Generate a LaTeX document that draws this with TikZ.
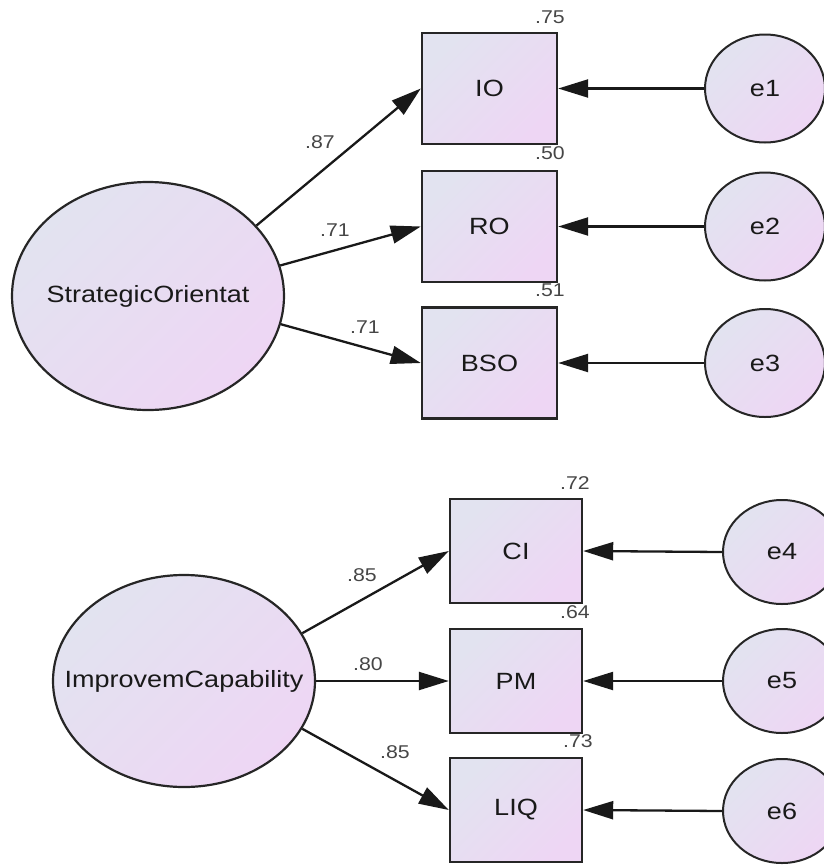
\documentclass[tikz,border=0pt]{standalone}
\usepackage{fontspec}
\usepackage{graphicx}
\setmainfont{Liberation Sans}
\usetikzlibrary{shapes.geometric,arrows.meta}
\definecolor{lavA}{RGB}{226,227,240}
\definecolor{lavB}{RGB}{238,214,244}
\definecolor{coefgray}{RGB}{70,70,70}
% text is set slightly widened, as the whole drawing is
\newcommand{\wtext}[1]{\scalebox{1.15}[1]{#1}}
\newcommand{\namefont}{\fontsize{23.5}{28}\selectfont}
\newcommand{\coeffont}{\fontsize{18.5}{22}\selectfont}
\tikzset{
  gradfill/.style={top color=lavA, bottom color=lavB, shading angle=45},
  obsbox/.style={draw=black!85, line width=2.4pt, gradfill, inner sep=0pt,
    font=\namefont, text=black!90},
  topbox/.style={obsbox, minimum width=135pt, minimum height=111pt},
  lowbox/.style={obsbox, minimum width=132pt, minimum height=104pt},
  latent/.style={ellipse, draw=black!85, line width=2.2pt, gradfill, inner sep=0pt},
  errnode/.style={ellipse, draw=black!85, line width=2pt, gradfill, inner sep=0pt,
    font=\namefont, text=black!90},
  regpath/.style={line width=2.3pt, draw=black!90,
    -{Triangle[length=30pt,width=18pt]}},
  coef/.style={font=\coeffont, text=coefgray, inner sep=0pt}
}
\begin{document}
\begin{tikzpicture}[x=1pt,y=-1pt]
\useasboundingbox (0,0) rectangle (824,865);

% ---- Strategic orientation block ----
\node[latent, minimum width=272pt, minimum height=228pt,
  label={[font=\namefont, text=black!90]center:\wtext{StrategicOrientat}}] (so) at (148,296) {};

\node[topbox] (io)  at (489.5,88.5) {\wtext{IO}};
\node[topbox] (ro)  at (489.5,226.5) {\wtext{RO}};
\node[topbox] (bso) at (489.5,363) {\wtext{BSO}};

\node[errnode, minimum width=120pt, minimum height=108pt] (e1) at (765,88.5) {\wtext{e1}};
\node[errnode, minimum width=120pt, minimum height=108pt] (e2) at (765,226.5) {\wtext{e2}};
\node[errnode, minimum width=120pt, minimum height=108pt] (e3) at (765,363) {\wtext{e3}};

\draw[regpath] (so.33)  -- (io.west);
\draw[regpath] (so.13)  -- (ro.west);
\draw[regpath] (so.-12) -- (bso.west);
\draw[regpath] (e1.west) -- (io.east);
\draw[regpath] (e2.west) -- (ro.east);
\draw[regpath] (e3.west) -- (bso.east);

\node[coef] (c1) at (320,142) {\wtext{.87}};
\node[coef] (c2) at (335,230) {\wtext{.71}};
\node[coef] (c3) at (365,327) {\wtext{.71}};
\node[coef] (r1) at (550,17)  {\wtext{.75}};
\node[coef] (r2) at (550,153) {\wtext{.50}};
\node[coef] (r3) at (550,290) {\wtext{.51}};

% ---- Improvement capability block ----
\node[latent, minimum width=262pt, minimum height=212pt,
  label={[font=\namefont, text=black!90]center:\wtext{ImprovemCapability}}] (ic) at (184,681) {};

\node[lowbox] (ci)  at (516,551) {\wtext{CI}};
\node[lowbox] (pm)  at (516,681) {\wtext{PM}};
\node[lowbox] (liq) at (516,810) {\wtext{LIQ}};

\node[errnode, minimum width=118pt, minimum height=104pt] (e4) at (782,552) {\wtext{e4}};
\node[errnode, minimum width=118pt, minimum height=104pt] (e5) at (782,681) {\wtext{e5}};
\node[errnode, minimum width=118pt, minimum height=104pt] (e6) at (782,811) {\wtext{e6}};

\draw[regpath] (ic.22)  -- (ci.west);
\draw[regpath] (ic.0)   -- (pm.west);
\draw[regpath] (ic.-22) -- (liq.west);
\draw[regpath] (e4.west) -- (ci.east);
\draw[regpath] (e5.west) -- (pm.east);
\draw[regpath] (e6.west) -- (liq.east);

\node[coef] (c4) at (362,575) {\wtext{.85}};
\node[coef] (c5) at (368,664) {\wtext{.80}};
\node[coef] (c6) at (395,752) {\wtext{.85}};
\node[coef] (r4) at (575,483) {\wtext{.72}};
\node[coef] (r5) at (575,612) {\wtext{.64}};
\node[coef] (r6) at (578,741) {\wtext{.73}};
\end{tikzpicture}
\end{document}
